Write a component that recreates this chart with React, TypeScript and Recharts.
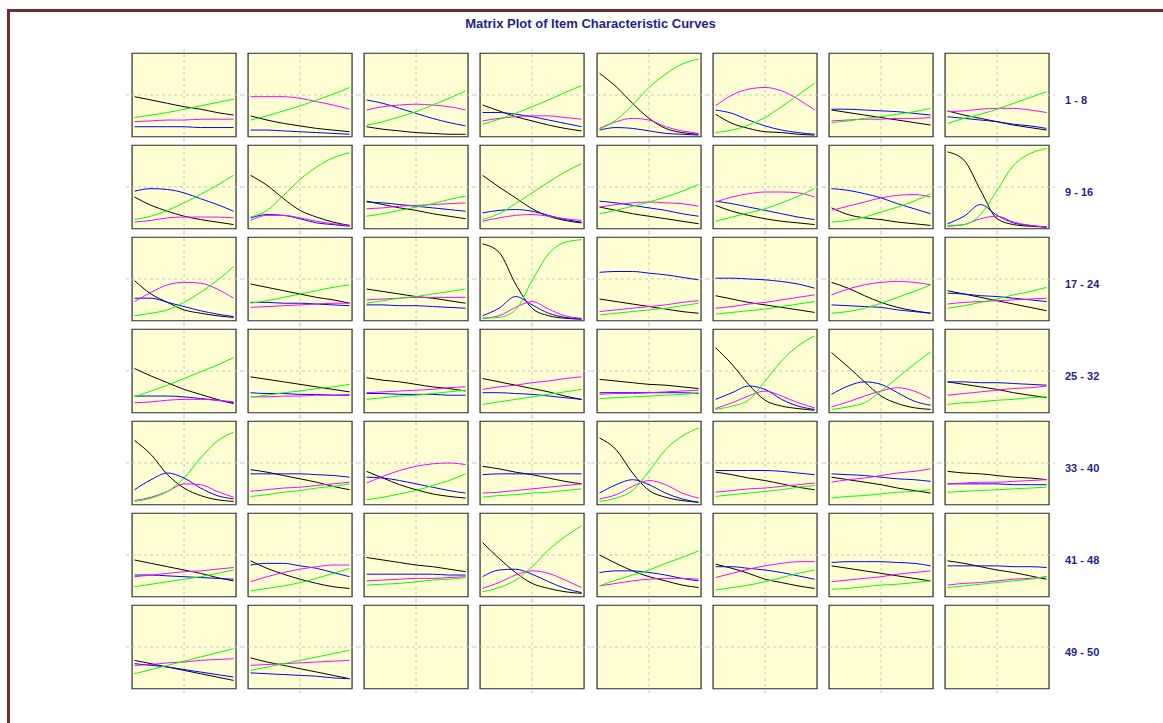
import React from "react";
import { LineChart, Line, XAxis, YAxis, ReferenceLine, ReferenceArea } from "recharts";

const chartTitle = "Matrix Plot of Item Characteristic Curves";
const rowLabels = ["1 - 8", "9 - 16", "17 - 24", "25 - 32", "33 - 40", "41 - 48", "49 - 50"];
const thetas = [-3, -2, -1, 0, 1, 2, 3];

// one entry per item (1..50), probability at theta = -3..3
const blackCurves = [
  [0.48, 0.44, 0.40, 0.36, 0.33, 0.29, 0.26],
  [0.25, 0.20, 0.16, 0.13, 0.10, 0.08, 0.06],
  [0.12, 0.09, 0.07, 0.05, 0.04, 0.03, 0.03],
  [0.38, 0.31, 0.24, 0.19, 0.14, 0.10, 0.07],
  [0.76, 0.60, 0.40, 0.22, 0.10, 0.05, 0.03],
  [0.27, 0.16, 0.10, 0.06, 0.05, 0.03, 0.02],
  [0.32, 0.29, 0.26, 0.23, 0.20, 0.17, 0.14],
  [0.31, 0.26, 0.22, 0.18, 0.14, 0.11, 0.08],
  [0.38, 0.28, 0.21, 0.15, 0.11, 0.08, 0.05],
  [0.64, 0.52, 0.36, 0.22, 0.14, 0.08, 0.04],
  [0.33, 0.29, 0.25, 0.22, 0.18, 0.15, 0.12],
  [0.64, 0.50, 0.37, 0.24, 0.15, 0.10, 0.07],
  [0.26, 0.22, 0.18, 0.15, 0.12, 0.09, 0.06],
  [0.28, 0.21, 0.16, 0.12, 0.09, 0.07, 0.05],
  [0.25, 0.17, 0.13, 0.11, 0.08, 0.06, 0.04],
  [0.92, 0.82, 0.46, 0.12, 0.05, 0.03, 0.02],
  [0.48, 0.32, 0.22, 0.13, 0.09, 0.06, 0.04],
  [0.44, 0.40, 0.36, 0.32, 0.28, 0.25, 0.21],
  [0.38, 0.35, 0.32, 0.29, 0.27, 0.24, 0.21],
  [0.92, 0.82, 0.44, 0.15, 0.06, 0.03, 0.02],
  [0.26, 0.23, 0.20, 0.17, 0.14, 0.11, 0.09],
  [0.30, 0.26, 0.22, 0.19, 0.16, 0.13, 0.10],
  [0.46, 0.39, 0.30, 0.22, 0.16, 0.12, 0.09],
  [0.36, 0.32, 0.28, 0.24, 0.20, 0.16, 0.12],
  [0.53, 0.44, 0.36, 0.28, 0.22, 0.16, 0.11],
  [0.43, 0.40, 0.37, 0.34, 0.31, 0.28, 0.25],
  [0.42, 0.39, 0.37, 0.34, 0.31, 0.29, 0.26],
  [0.41, 0.37, 0.33, 0.29, 0.25, 0.20, 0.16],
  [0.40, 0.38, 0.36, 0.34, 0.33, 0.31, 0.29],
  [0.78, 0.58, 0.34, 0.15, 0.08, 0.05, 0.03],
  [0.72, 0.55, 0.37, 0.20, 0.11, 0.06, 0.04],
  [0.37, 0.34, 0.31, 0.28, 0.24, 0.21, 0.18],
  [0.77, 0.60, 0.36, 0.20, 0.11, 0.06, 0.04],
  [0.42, 0.39, 0.35, 0.31, 0.27, 0.22, 0.18],
  [0.40, 0.32, 0.24, 0.18, 0.13, 0.10, 0.08],
  [0.46, 0.43, 0.39, 0.36, 0.32, 0.28, 0.25],
  [0.80, 0.66, 0.38, 0.17, 0.09, 0.05, 0.03],
  [0.39, 0.36, 0.32, 0.29, 0.25, 0.21, 0.18],
  [0.33, 0.30, 0.27, 0.24, 0.20, 0.17, 0.14],
  [0.40, 0.38, 0.37, 0.35, 0.33, 0.32, 0.30],
  [0.44, 0.40, 0.36, 0.32, 0.28, 0.23, 0.19],
  [0.43, 0.34, 0.27, 0.21, 0.16, 0.12, 0.10],
  [0.47, 0.44, 0.41, 0.38, 0.36, 0.33, 0.30],
  [0.65, 0.46, 0.29, 0.16, 0.10, 0.06, 0.04],
  [0.50, 0.40, 0.31, 0.24, 0.19, 0.14, 0.11],
  [0.39, 0.34, 0.28, 0.21, 0.17, 0.13, 0.10],
  [0.37, 0.34, 0.31, 0.28, 0.25, 0.22, 0.19],
  [0.43, 0.40, 0.36, 0.32, 0.29, 0.25, 0.21],
  [0.34, 0.30, 0.26, 0.22, 0.18, 0.14, 0.10],
  [0.37, 0.32, 0.28, 0.24, 0.20, 0.16, 0.12],
];

const blueCurves = [
  [0.12, 0.12, 0.12, 0.12, 0.11, 0.11, 0.11],
  [0.08, 0.08, 0.07, 0.06, 0.05, 0.04, 0.03],
  [0.44, 0.40, 0.34, 0.28, 0.22, 0.17, 0.13],
  [0.29, 0.29, 0.27, 0.24, 0.20, 0.16, 0.12],
  [0.08, 0.11, 0.10, 0.07, 0.04, 0.03, 0.02],
  [0.32, 0.28, 0.20, 0.13, 0.08, 0.05, 0.03],
  [0.33, 0.33, 0.32, 0.31, 0.30, 0.28, 0.26],
  [0.24, 0.22, 0.20, 0.18, 0.15, 0.13, 0.10],
  [0.45, 0.48, 0.47, 0.43, 0.36, 0.29, 0.21],
  [0.13, 0.17, 0.16, 0.12, 0.07, 0.05, 0.03],
  [0.32, 0.31, 0.29, 0.27, 0.25, 0.23, 0.21],
  [0.19, 0.22, 0.23, 0.21, 0.16, 0.11, 0.08],
  [0.33, 0.31, 0.28, 0.25, 0.22, 0.18, 0.15],
  [0.33, 0.30, 0.26, 0.22, 0.18, 0.14, 0.11],
  [0.48, 0.46, 0.42, 0.37, 0.30, 0.24, 0.18],
  [0.06, 0.15, 0.29, 0.16, 0.07, 0.04, 0.02],
  [0.27, 0.27, 0.22, 0.17, 0.12, 0.08, 0.05],
  [0.22, 0.22, 0.21, 0.21, 0.20, 0.19, 0.18],
  [0.19, 0.19, 0.18, 0.18, 0.17, 0.16, 0.15],
  [0.06, 0.15, 0.29, 0.19, 0.09, 0.04, 0.02],
  [0.58, 0.59, 0.59, 0.57, 0.55, 0.52, 0.49],
  [0.51, 0.51, 0.50, 0.49, 0.47, 0.44, 0.39],
  [0.19, 0.18, 0.17, 0.16, 0.13, 0.11, 0.09],
  [0.33, 0.32, 0.30, 0.29, 0.27, 0.25, 0.23],
  [0.20, 0.20, 0.20, 0.19, 0.17, 0.15, 0.12],
  [0.24, 0.23, 0.23, 0.22, 0.22, 0.21, 0.21],
  [0.23, 0.23, 0.22, 0.22, 0.22, 0.21, 0.21],
  [0.24, 0.24, 0.23, 0.22, 0.20, 0.18, 0.16],
  [0.24, 0.24, 0.24, 0.24, 0.24, 0.24, 0.23],
  [0.16, 0.24, 0.32, 0.28, 0.16, 0.08, 0.04],
  [0.22, 0.32, 0.37, 0.34, 0.24, 0.14, 0.09],
  [0.37, 0.37, 0.36, 0.36, 0.35, 0.34, 0.33],
  [0.18, 0.30, 0.38, 0.32, 0.20, 0.11, 0.07],
  [0.37, 0.37, 0.37, 0.37, 0.36, 0.35, 0.33],
  [0.33, 0.32, 0.29, 0.25, 0.21, 0.17, 0.14],
  [0.36, 0.37, 0.37, 0.37, 0.37, 0.37, 0.37],
  [0.14, 0.24, 0.30, 0.24, 0.14, 0.07, 0.03],
  [0.41, 0.41, 0.41, 0.41, 0.40, 0.38, 0.36],
  [0.37, 0.36, 0.35, 0.33, 0.31, 0.30, 0.28],
  [0.25, 0.25, 0.25, 0.25, 0.24, 0.24, 0.24],
  [0.26, 0.26, 0.25, 0.24, 0.23, 0.22, 0.21],
  [0.38, 0.40, 0.40, 0.37, 0.34, 0.29, 0.24],
  [0.27, 0.27, 0.27, 0.27, 0.27, 0.26, 0.26],
  [0.24, 0.32, 0.33, 0.27, 0.18, 0.10, 0.05],
  [0.29, 0.31, 0.31, 0.29, 0.26, 0.22, 0.19],
  [0.36, 0.36, 0.34, 0.32, 0.29, 0.25, 0.21],
  [0.41, 0.42, 0.42, 0.42, 0.41, 0.40, 0.37],
  [0.37, 0.37, 0.37, 0.37, 0.36, 0.36, 0.35],
  [0.30, 0.28, 0.26, 0.23, 0.20, 0.17, 0.14],
  [0.19, 0.18, 0.17, 0.16, 0.15, 0.13, 0.12],
];

const magentaCurves = [
  [0.18, 0.19, 0.20, 0.20, 0.21, 0.21, 0.21],
  [0.48, 0.48, 0.48, 0.46, 0.42, 0.38, 0.33],
  [0.32, 0.36, 0.38, 0.39, 0.38, 0.36, 0.32],
  [0.19, 0.22, 0.24, 0.25, 0.25, 0.23, 0.21],
  [0.10, 0.18, 0.22, 0.20, 0.12, 0.07, 0.04],
  [0.37, 0.50, 0.57, 0.59, 0.55, 0.45, 0.32],
  [0.19, 0.20, 0.21, 0.21, 0.22, 0.22, 0.23],
  [0.30, 0.31, 0.33, 0.34, 0.34, 0.32, 0.29],
  [0.08, 0.10, 0.13, 0.14, 0.14, 0.14, 0.13],
  [0.10, 0.16, 0.16, 0.13, 0.09, 0.06, 0.04],
  [0.24, 0.25, 0.27, 0.28, 0.29, 0.30, 0.31],
  [0.09, 0.13, 0.16, 0.17, 0.15, 0.12, 0.10],
  [0.26, 0.29, 0.31, 0.32, 0.31, 0.30, 0.27],
  [0.32, 0.38, 0.42, 0.44, 0.44, 0.43, 0.38],
  [0.22, 0.27, 0.32, 0.37, 0.40, 0.41, 0.38],
  [0.03, 0.05, 0.12, 0.15, 0.08, 0.04, 0.02],
  [0.23, 0.34, 0.43, 0.46, 0.45, 0.38, 0.27],
  [0.16, 0.17, 0.18, 0.19, 0.20, 0.21, 0.21],
  [0.25, 0.26, 0.27, 0.28, 0.28, 0.28, 0.28],
  [0.03, 0.06, 0.16, 0.23, 0.14, 0.06, 0.03],
  [0.11, 0.13, 0.15, 0.17, 0.19, 0.22, 0.24],
  [0.15, 0.17, 0.20, 0.22, 0.25, 0.28, 0.31],
  [0.31, 0.38, 0.43, 0.46, 0.47, 0.46, 0.43],
  [0.20, 0.22, 0.23, 0.24, 0.25, 0.26, 0.27],
  [0.12, 0.13, 0.15, 0.16, 0.16, 0.15, 0.13],
  [0.19, 0.19, 0.20, 0.20, 0.21, 0.21, 0.22],
  [0.24, 0.25, 0.26, 0.27, 0.28, 0.30, 0.31],
  [0.28, 0.31, 0.33, 0.36, 0.38, 0.41, 0.43],
  [0.22, 0.23, 0.23, 0.24, 0.25, 0.26, 0.27],
  [0.05, 0.12, 0.20, 0.26, 0.20, 0.12, 0.06],
  [0.07, 0.13, 0.20, 0.26, 0.30, 0.26, 0.17],
  [0.21, 0.23, 0.25, 0.27, 0.29, 0.30, 0.32],
  [0.05, 0.09, 0.16, 0.25, 0.24, 0.16, 0.09],
  [0.16, 0.18, 0.20, 0.21, 0.23, 0.25, 0.27],
  [0.26, 0.34, 0.41, 0.46, 0.49, 0.50, 0.48],
  [0.14, 0.15, 0.17, 0.19, 0.21, 0.23, 0.25],
  [0.07, 0.12, 0.22, 0.29, 0.24, 0.14, 0.08],
  [0.15, 0.17, 0.19, 0.20, 0.22, 0.24, 0.26],
  [0.27, 0.30, 0.32, 0.35, 0.38, 0.40, 0.43],
  [0.25, 0.26, 0.27, 0.27, 0.28, 0.29, 0.30],
  [0.24, 0.26, 0.28, 0.30, 0.31, 0.33, 0.35],
  [0.18, 0.24, 0.29, 0.33, 0.36, 0.38, 0.38],
  [0.19, 0.20, 0.21, 0.22, 0.22, 0.23, 0.24],
  [0.10, 0.17, 0.26, 0.31, 0.28, 0.20, 0.11],
  [0.13, 0.16, 0.19, 0.21, 0.22, 0.22, 0.21],
  [0.23, 0.28, 0.33, 0.37, 0.40, 0.42, 0.42],
  [0.18, 0.20, 0.22, 0.24, 0.27, 0.29, 0.31],
  [0.14, 0.16, 0.17, 0.19, 0.21, 0.22, 0.24],
  [0.28, 0.29, 0.31, 0.32, 0.34, 0.35, 0.36],
  [0.28, 0.29, 0.30, 0.31, 0.32, 0.33, 0.34],
];

const greenCurves = [
  [0.23, 0.26, 0.29, 0.33, 0.37, 0.41, 0.45],
  [0.20, 0.25, 0.31, 0.37, 0.44, 0.51, 0.59],
  [0.14, 0.18, 0.24, 0.30, 0.38, 0.46, 0.55],
  [0.15, 0.21, 0.28, 0.36, 0.44, 0.53, 0.61],
  [0.09, 0.20, 0.38, 0.59, 0.75, 0.87, 0.93],
  [0.05, 0.08, 0.14, 0.23, 0.36, 0.50, 0.64],
  [0.17, 0.19, 0.22, 0.24, 0.27, 0.30, 0.34],
  [0.16, 0.22, 0.27, 0.33, 0.40, 0.47, 0.54],
  [0.11, 0.15, 0.22, 0.31, 0.41, 0.52, 0.64],
  [0.14, 0.22, 0.40, 0.59, 0.74, 0.85, 0.91],
  [0.15, 0.18, 0.22, 0.26, 0.30, 0.35, 0.39],
  [0.11, 0.18, 0.30, 0.43, 0.56, 0.68, 0.78],
  [0.18, 0.22, 0.27, 0.32, 0.38, 0.45, 0.53],
  [0.09, 0.14, 0.19, 0.24, 0.31, 0.39, 0.48],
  [0.08, 0.10, 0.14, 0.20, 0.26, 0.33, 0.42],
  [0.04, 0.05, 0.17, 0.46, 0.76, 0.90, 0.96],
  [0.06, 0.09, 0.13, 0.22, 0.34, 0.48, 0.65],
  [0.21, 0.24, 0.28, 0.32, 0.36, 0.40, 0.43],
  [0.21, 0.24, 0.27, 0.29, 0.32, 0.35, 0.38],
  [0.03, 0.04, 0.13, 0.48, 0.80, 0.94, 0.97],
  [0.07, 0.09, 0.11, 0.13, 0.15, 0.18, 0.21],
  [0.08, 0.10, 0.12, 0.14, 0.17, 0.20, 0.23],
  [0.09, 0.11, 0.15, 0.21, 0.28, 0.35, 0.43],
  [0.15, 0.18, 0.22, 0.26, 0.31, 0.35, 0.40],
  [0.19, 0.26, 0.33, 0.41, 0.49, 0.57, 0.66],
  [0.19, 0.21, 0.24, 0.26, 0.29, 0.31, 0.34],
  [0.16, 0.18, 0.20, 0.21, 0.23, 0.25, 0.27],
  [0.10, 0.13, 0.16, 0.19, 0.22, 0.25, 0.28],
  [0.17, 0.18, 0.19, 0.20, 0.21, 0.22, 0.24],
  [0.04, 0.08, 0.15, 0.38, 0.62, 0.80, 0.92],
  [0.04, 0.07, 0.12, 0.26, 0.42, 0.58, 0.73],
  [0.10, 0.12, 0.13, 0.15, 0.16, 0.18, 0.19],
  [0.04, 0.08, 0.16, 0.32, 0.56, 0.76, 0.87],
  [0.10, 0.12, 0.15, 0.17, 0.20, 0.22, 0.25],
  [0.06, 0.09, 0.13, 0.17, 0.23, 0.29, 0.37],
  [0.09, 0.11, 0.12, 0.14, 0.15, 0.17, 0.19],
  [0.04, 0.08, 0.17, 0.40, 0.66, 0.82, 0.92],
  [0.10, 0.12, 0.14, 0.16, 0.18, 0.21, 0.23],
  [0.08, 0.10, 0.11, 0.13, 0.15, 0.16, 0.18],
  [0.15, 0.16, 0.17, 0.18, 0.19, 0.20, 0.21],
  [0.12, 0.15, 0.18, 0.21, 0.24, 0.28, 0.32],
  [0.07, 0.10, 0.13, 0.17, 0.22, 0.28, 0.34],
  [0.14, 0.15, 0.16, 0.18, 0.20, 0.21, 0.23],
  [0.06, 0.11, 0.20, 0.36, 0.56, 0.72, 0.85],
  [0.13, 0.20, 0.26, 0.32, 0.40, 0.47, 0.55],
  [0.08, 0.11, 0.14, 0.18, 0.23, 0.28, 0.32],
  [0.09, 0.10, 0.12, 0.14, 0.15, 0.17, 0.19],
  [0.11, 0.13, 0.15, 0.17, 0.19, 0.21, 0.24],
  [0.18, 0.23, 0.28, 0.33, 0.38, 0.43, 0.48],
  [0.22, 0.26, 0.30, 0.34, 0.38, 0.42, 0.46],
];

const seriesDefs = [
  { key: "black", color: "#000000" },
  { key: "blue", color: "#0000FF" },
  { key: "magenta", color: "#FF00FF" },
  { key: "green", color: "#00FF00" },
];

const COLS = 8;
const ROWS = 7;
const CELL_W = 116.14;
const CELL_H = 92;
const PANEL_W = 104;
const PANEL_H = 83.5;
const THETA_HALF = 3.15;
const X_HALF = (THETA_HALF * CELL_W) / PANEL_W;
const Y_PAD = (CELL_H - PANEL_H) / 2 / PANEL_H;
const GRID_LEFT = 126;
const GRID_TOP = 48.75;
const PANEL_FILL = "#FFFFD3";
const NAVY = "#1F1F8A";

function Panel({ item }: { item: number }) {
  const has = item < blackCurves.length;
  const data = thetas.map((t, i) =>
    has
      ? {
          theta: t,
          black: blackCurves[item][i],
          blue: blueCurves[item][i],
          magenta: magentaCurves[item][i],
          green: greenCurves[item][i],
        }
      : { theta: t }
  );
  return (
    <LineChart width={CELL_W} height={CELL_H} data={data} margin={{ top: 0, right: 0, bottom: 0, left: 0 }}>
      <XAxis type="number" dataKey="theta" domain={[-X_HALF, X_HALF]} hide allowDataOverflow />
      <YAxis type="number" domain={[-Y_PAD, 1 + Y_PAD]} hide allowDataOverflow />
      <ReferenceArea
        x1={-THETA_HALF}
        x2={THETA_HALF}
        y1={0}
        y2={1}
        fill={PANEL_FILL}
        fillOpacity={1}
        stroke="#2a2a2a"
        strokeWidth={1.2}
      />
      <ReferenceLine x={0} stroke="#c6c6c6" strokeDasharray="3 3" />
      <ReferenceLine y={0.5} stroke="#c6c6c6" strokeDasharray="3 3" />
      {has &&
        seriesDefs.map((s) => (
          <Line
            key={s.key}
            dataKey={s.key}
            type="monotone"
            stroke={s.color}
            strokeWidth={1}
            dot={false}
            activeDot={false}
            isAnimationActive={false}
          />
        ))}
    </LineChart>
  );
}

export default function App() {
  const cells = [];
  for (let r = 0; r < ROWS; r++) {
    for (let c = 0; c < COLS; c++) {
      const item = r * COLS + c;
      cells.push(
        <div
          key={item}
          style={{ position: "absolute", left: GRID_LEFT + c * CELL_W, top: GRID_TOP + r * CELL_H, width: CELL_W, height: CELL_H }}
        >
          <Panel item={item} />
        </div>
      );
    }
  }
  return (
    <div
      style={{
        position: "absolute",
        left: 0,
        top: 0,
        width: 1163,
        height: 723,
        background: "#ffffff",
        overflow: "hidden",
        fontFamily: "'Liberation Sans', Arial, sans-serif",
      }}
    >
      <div
        style={{
          position: "absolute",
          left: 7,
          top: 9,
          width: 1163,
          height: 723,
          borderTop: "3px solid #6E2E2E",
          borderLeft: "3px solid #6E2E2E",
        }}
      />
      <div
        style={{
          position: "absolute",
          left: 0,
          width: 1181,
          top: 16,
          textAlign: "center",
          fontWeight: "bold",
          fontSize: 13,
          color: NAVY,
        }}
      >
        {chartTitle}
      </div>
      {cells}
      {rowLabels.map((lab, r) => (
        <div
          key={lab}
          style={{
            position: "absolute",
            left: 1065,
            top: GRID_TOP + r * CELL_H + CELL_H / 2 - 1,
            fontWeight: "bold",
            fontSize: 11,
            color: NAVY,
            whiteSpace: "nowrap",
          }}
        >
          {lab}
        </div>
      ))}
    </div>
  );
}
